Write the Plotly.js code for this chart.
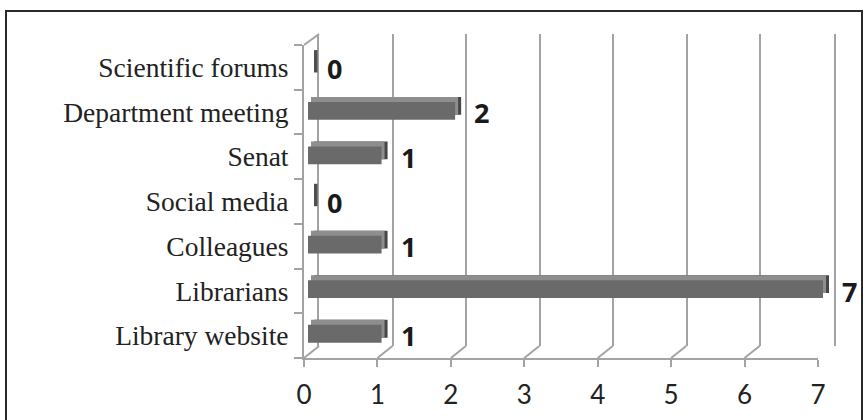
<!DOCTYPE html>
<html>
<head>
<meta charset="utf-8">
<script src="https://cdn.plot.ly/plotly-3.0.1.min.js"></script>
<style>
  html, body { margin: 0; padding: 0; background: #ffffff; }
  #wrap { position: relative; width: 867px; height: 420px; overflow: hidden; }
  #chart { width: 867px; height: 420px; }
  #frame { position: absolute; left: 5px; top: 10px; width: 858px; height: 430px;
           border: 2px solid #2a2a2a; box-sizing: border-box; pointer-events: none; }
</style>
</head>
<body>
<div id="wrap">
  <div id="chart"></div>
  <div id="frame"></div>
</div>
<script>
// ---- data ----
const categories = ['Library website', 'Librarians', 'Colleagues', 'Social media', 'Senat', 'Department meeting', 'Scientific forums'];
const values = [1, 7, 1, 0, 1, 2, 0];
const xTicks = [0, 1, 2, 3, 4, 5, 6, 7];

// ---- styling helpers ----
const W = 867, H = 420;
const px = v => v / W;
const py = v => 1 - v / H;
const GRID = '#a3a3a3';
const XMAX = 7;
const DEPTH = 0.205; // depth of the pseudo-3D wall, in x units

const catAxis = (dom, extra) => Object.assign({
  type: 'category', categoryorder: 'array', categoryarray: categories,
  domain: dom, range: [-0.5, categories.length - 0.5], fixedrange: true
}, extra || {});
const hiddenX = (dom, anchor) => ({ domain: dom, range: [0, XMAX], anchor: anchor, visible: false, fixedrange: true });

const zeroCats = categories.filter((c, i) => values[i] === 0);
const zeroVals = values.filter(v => v === 0);

const traces = [
  // back wall carrier (invisible) so the wall subplot is drawn
  { type: 'bar', orientation: 'h', x: values, y: categories, xaxis: 'x', yaxis: 'y',
    marker: { color: 'rgba(0,0,0,0)' }, hoverinfo: 'skip', showlegend: false },
  // side face (dark)
  { type: 'bar', orientation: 'h', x: values, y: categories, xaxis: 'x2', yaxis: 'y2',
    marker: { color: '#464646' }, hoverinfo: 'skip', showlegend: false },
  { type: 'scatter', mode: 'markers', x: zeroVals, y: zeroCats, xaxis: 'x2', yaxis: 'y2',
    marker: { symbol: 'line-ns', size: 16, line: { width: 7, color: '#4f4f4f' } }, hoverinfo: 'skip', showlegend: false },
  // top face (light)
  { type: 'bar', orientation: 'h', x: values, y: categories, xaxis: 'x3', yaxis: 'y3',
    marker: { color: '#8e8e8e' }, hoverinfo: 'skip', showlegend: false },
  // front face
  { type: 'bar', orientation: 'h', x: values, y: categories, xaxis: 'x4', yaxis: 'y4',
    marker: { color: '#6a6a6a' }, hoverinfo: 'skip', showlegend: false },
  // invisible carrier for front axes
  { type: 'bar', orientation: 'h', x: values, y: categories, xaxis: 'x5', yaxis: 'y5',
    marker: { color: 'rgba(0,0,0,0)' }, hoverinfo: 'skip', showlegend: false }
];

const shapes = [];
xTicks.forEach(v => {
  shapes.push({ type: 'line', xref: 'x5', yref: 'paper', x0: v, x1: v + DEPTH, y0: py(358), y1: py(346),
                line: { color: GRID, width: 2 } });
});
shapes.push({ type: 'line', xref: 'x5', yref: 'paper', x0: 0, x1: DEPTH, y0: py(45), y1: py(34),
              line: { color: GRID, width: 2 } });

const annotations = categories.map((c, i) => ({
  x: values[i], y: c, xref: 'x4', yref: 'y4', text: String(values[i]),
  showarrow: false, xanchor: 'left', yanchor: 'middle', xshift: 17, yshift: -2,
  font: { family: 'Open Sans, sans-serif', size: 27, color: '#1a1a1a', weight: 700 }
}));

const layout = {
  width: W, height: H,
  margin: { l: 0, r: 0, t: 0, b: 0 },
  paper_bgcolor: '#ffffff', plot_bgcolor: 'rgba(0,0,0,0)',
  bargap: 0.6, showlegend: false,
  // back wall
  xaxis: { domain: [px(319), px(834)], range: [0, XMAX], anchor: 'y', tickvals: xTicks,
           showgrid: true, gridcolor: GRID, gridwidth: 2, zeroline: false,
           showticklabels: false, ticks: '', showline: false, fixedrange: true },
  yaxis: catAxis([py(346), py(34)], { anchor: 'x', showgrid: false, zeroline: false,
           showticklabels: false, ticks: '', showline: true, mirror: true, linecolor: GRID, linewidth: 2 }),
  // side copy
  xaxis2: hiddenX([px(314), px(829)], 'y2'),
  yaxis2: catAxis([py(351), py(39)], { anchor: 'x2', visible: false }),
  // top copy
  xaxis3: hiddenX([px(311), px(826)], 'y3'),
  yaxis3: catAxis([py(351), py(39)], { anchor: 'x3', visible: false }),
  // front face
  xaxis4: hiddenX([px(308), px(823)], 'y4'),
  yaxis4: catAxis([py(356), py(44)], { anchor: 'x4', visible: false }),
  // front axes with labels
  xaxis5: { domain: [px(304), px(818)], range: [0, XMAX], anchor: 'y5', tickvals: xTicks,
            showgrid: false, zeroline: false, showline: true, linecolor: GRID, linewidth: 2,
            ticks: 'outside', ticklen: 7, tickwidth: 2, tickcolor: GRID, ticklabelstandoff: 6,
            tickfont: { family: 'Lato, sans-serif', size: 26, color: '#222222' }, fixedrange: true },
  yaxis5: catAxis([py(358), py(45)], {
            anchor: 'x5', showgrid: false, zeroline: false, showline: true, linecolor: GRID, linewidth: 2,
            ticks: 'outside', tickson: 'boundaries', ticklen: 8, tickwidth: 2, tickcolor: GRID, ticklabelstandoff: 8,
            tickfont: { family: 'Liberation Serif, serif', size: 27.5, color: '#222222' } }),
  shapes: shapes,
  annotations: annotations
};

Plotly.newPlot('chart', traces, layout, { displayModeBar: false, staticPlot: true });
</script>
</body>
</html>
